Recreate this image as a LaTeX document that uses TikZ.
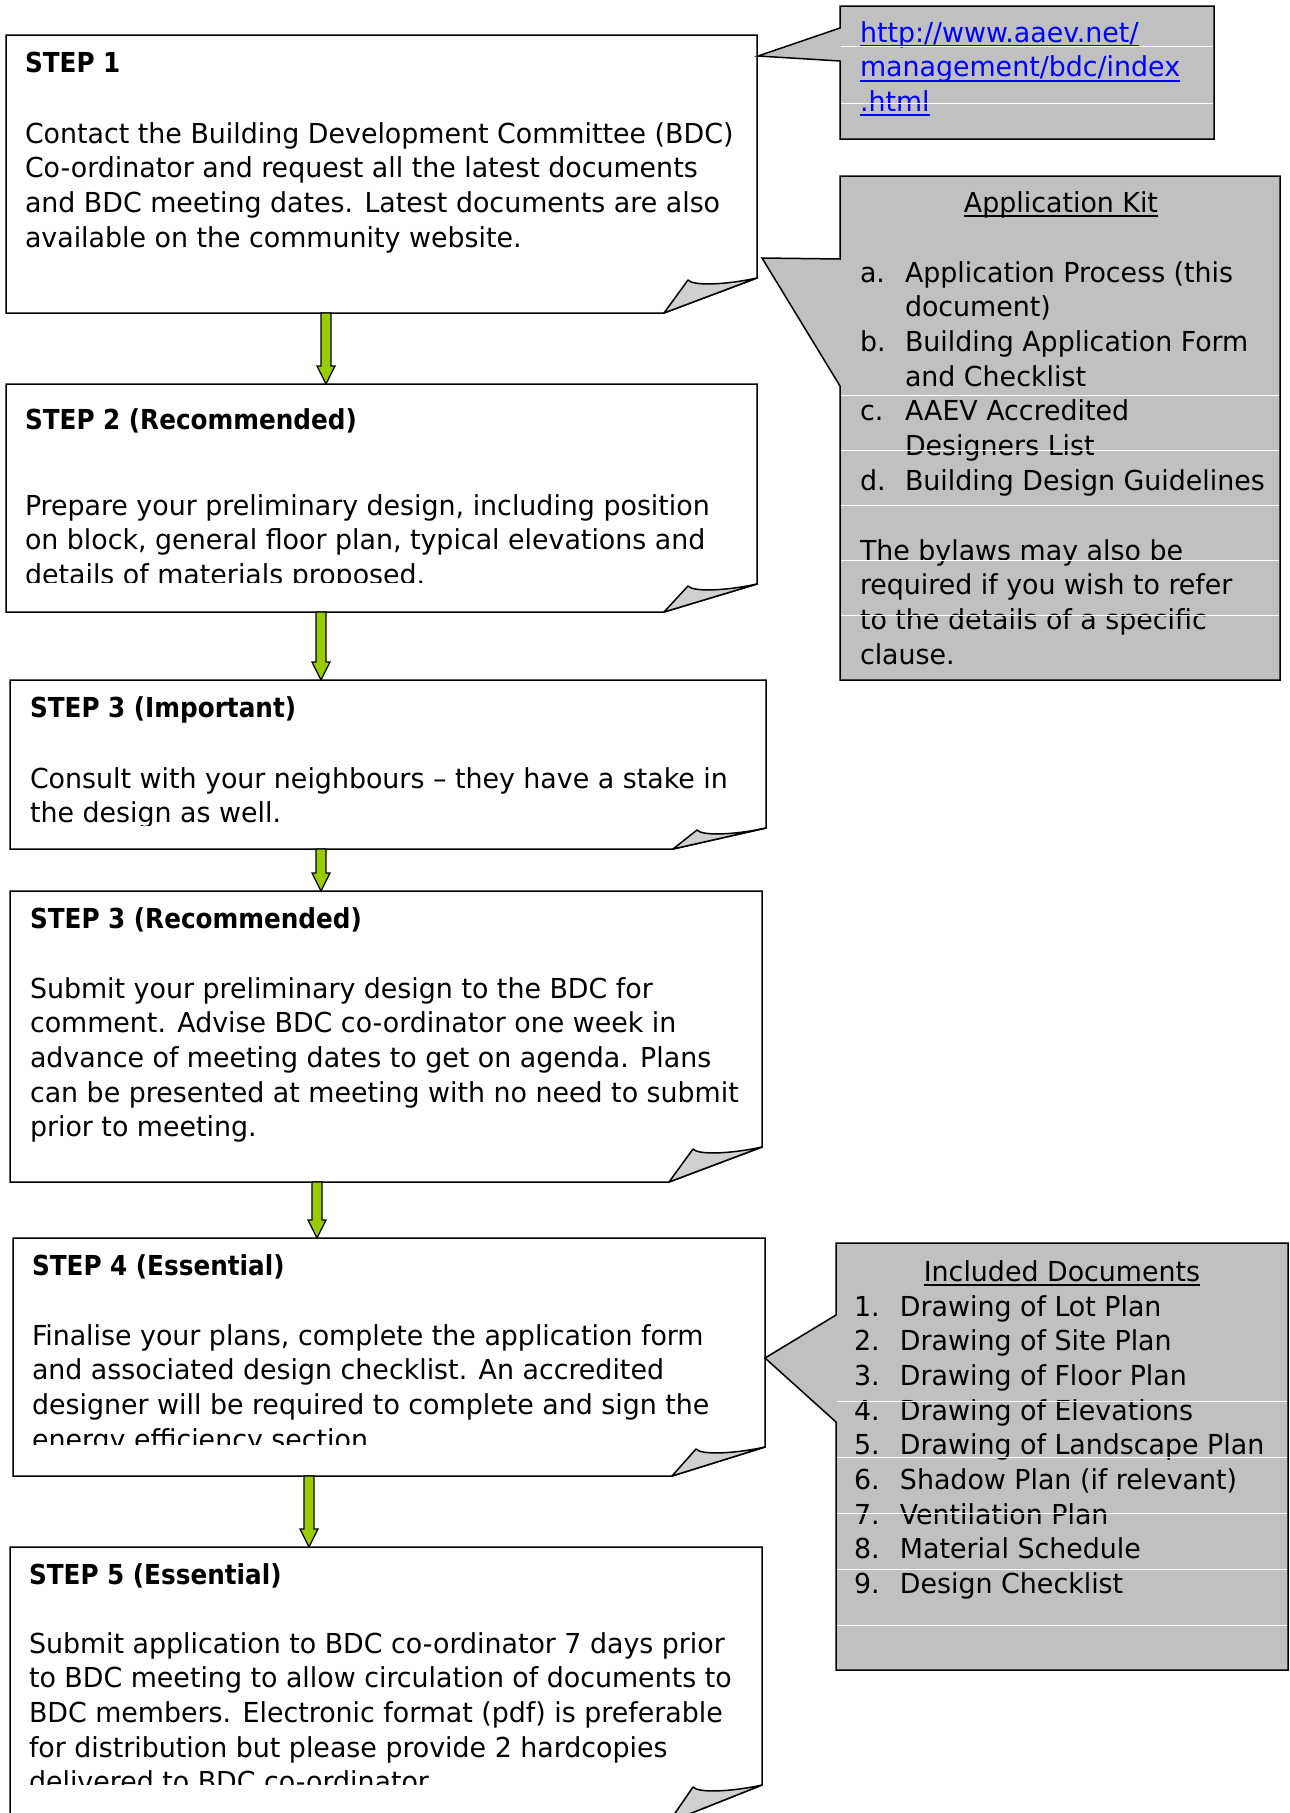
\documentclass[tikz,border=0pt]{standalone}
\usepackage{fontspec}
\IfFontExistsTF{DejaVu Sans Condensed}{\setmainfont{DejaVu Sans Condensed}[FakeStretch=1.085]}{\setmainfont{DejaVu Sans}[FakeStretch=0.976]}
\usepackage{graphicx}
\usetikzlibrary{calc}
\definecolor{callgray}{RGB}{192,192,192}
\definecolor{curlgray}{RGB}{208,208,208}
\definecolor{agreen}{RGB}{153,204,0}
\definecolor{linkblue}{RGB}{0,0,255}

\tikzset{
  boxline/.style={draw=black, line width=1.5pt, fill=white, line join=miter},
  curl/.style={draw=black, line width=1.5pt, fill=curlgray, line join=round},
  callout/.style={draw=black, line width=1.5pt, fill=callgray},
  rowline/.style={draw=white, line width=0.8pt},
  garrow/.style={draw=black, line width=1.2pt, fill=agreen},
  txt/.style={anchor=base west, inner sep=0pt, outer sep=0pt, font=\fontsize{27.5}{34.7}\selectfont},
  ctxt/.style={txt, anchor=base},
  frame/.style={inner sep=0pt, outer sep=0pt, anchor=north west, draw=none},
}

% name, L, T, R, B, right-end y, bottom-end x
\newcommand\stepbox[7]{%
  \node[frame, minimum width={#4-#2}, minimum height={#5-#3}] (#1) at (#2,#3) {};
  \draw[boxline] (#2,#3) -- (#4,#3) -- (#4,#6) -- (#7,#5) -- (#2,#5) -- cycle;
  \draw[curl] (#7,#5) -- ({#7+24},{#6+2}) .. controls ({#7+29},{#6+8}) and ({#7+61},{#6+7}) .. (#4,#6) -- cycle;
}
% from, to, x
\newcommand\gArrow[3]{%
  \draw[garrow] let \p1=(#1.south), \p2=(#2.north) in
   ({#3pt-5pt},\y1) -- ({#3pt+5pt},\y1) -- ({#3pt+5pt},\y2+18pt) -- ({#3pt+9pt},\y2+18pt)
   -- (#3pt,\y2) -- ({#3pt-9pt},\y2+18pt) -- ({#3pt-5pt},\y2+18pt) -- cycle;
}
\newcommand\lns[1]{\begin{tabular}[t]{@{}l@{}}#1\end{tabular}}
\newcommand\itm[2]{\makebox[#1pt][l]{#2}}
\newsavebox\ulbox
\newcommand\ulin[1]{\sbox\ulbox{#1}\rlap{\rule[-5pt]{\wd\ulbox}{2pt}}\usebox\ulbox}
\newcommand\steptitle[1]{\scalebox{0.92}[1]{\bfseries #1}}

\begin{document}
\begin{tikzpicture}[x=1pt,y=-1pt]
\useasboundingbox (0,0) rectangle (1290,1813);
\clip (0,0) rectangle (1290,1813);
\fill[white] (0,0) rectangle (1290,1813);

% ---------- step boxes ----------
\stepbox{s1}{6}{35}{757}{313}{278}{664}
\stepbox{s2}{6}{384}{757}{612}{584}{664}
\stepbox{s3}{10}{680}{766}{849}{828}{673}
\stepbox{s4}{10}{891}{762}{1182}{1147}{669}
\stepbox{s5}{13}{1238}{765}{1476}{1447}{672}
\stepbox{s6}{10}{1547}{762}{1822}{1785}{669}

% ---------- arrows ----------
\gArrow{s1}{s2}{326}
\gArrow{s2}{s3}{321}
\gArrow{s3}{s4}{321}
\gArrow{s4}{s5}{317}
\gArrow{s5}{s6}{309}

% ---------- step texts ----------
\node[txt] (s1a) at (25,72) {\steptitle{STEP 1}};
\node[txt] (s1b) at (25,143) {\lns{Contact the Building Development Committee (BDC)\\
Co-ordinator and request all the latest documents\\
and BDC meeting dates. Latest documents are also\\
available on the community website.}};

\node[txt] (s2a) at (25,429) {\steptitle{STEP 2 (Recommended)}};
\begin{scope}
\clip (6,440) rectangle (757,582);
\node[txt] (s2b) at (25,515) {\lns{Prepare your preliminary design, including position\\
on block, general floor plan, typical elevations and\\
details of materials proposed.}};
\end{scope}

\node[txt] (s3a) at (30,717) {\steptitle{STEP 3 (Important)}};
\begin{scope}
\clip (10,730) rectangle (766,825);
\node[txt] (s3b) at (30,788) {\lns{Consult with your neighbours – they have a stake in\\
the design as well.}};
\end{scope}

\node[txt] (s4a) at (30,928) {\steptitle{STEP 3 (Recommended)}};
\node[txt] (s4b) at (30,998) {\lns{Submit your preliminary design to the BDC for\\
comment. Advise BDC co-ordinator one week in\\
advance of meeting dates to get on agenda. Plans\\
can be presented at meeting with no need to submit\\
prior to meeting.}};

\node[txt] (s5a) at (32,1275) {\steptitle{STEP 4 (Essential)}};
\begin{scope}
\clip (13,1290) rectangle (765,1444);
\node[txt] (s5b) at (32,1345) {\lns{Finalise your plans, complete the application form\\
and associated design checklist. An accredited\\
designer will be required to complete and sign the\\
energy efficiency section.}};
\end{scope}

\node[txt] (s6a) at (29,1584) {\steptitle{STEP 5 (Essential)}};
\begin{scope}
\clip (10,1600) rectangle (762,1784);
\node[txt] (s6b) at (29,1653) {\lns{Submit application to BDC co-ordinator 7 days prior\\
to BDC meeting to allow circulation of documents to\\
BDC members. Electronic format (pdf) is preferable\\
for distribution but please provide 2 hardcopies\\
delivered to BDC co-ordinator.}};
\end{scope}

% ---------- callout: URL ----------
\node[frame, minimum width=374, minimum height=133] (url) at (840,6) {};
\draw[callout] (840,6) -- (1214,6) -- (1214,139) -- (840,139) -- (840,61) -- (758,56) -- (840,28) -- cycle;
\node[txt] (urlt) at (860,42) {\color{linkblue}\lns{\ulin{http://www.aaev.net/}\\
\ulin{management/bdc/index}\\
\ulin{.html}}};
\draw[rowline] (841,46) -- (1213,46);
\draw[rowline] (841,103) -- (1213,103);

% ---------- callout: Application Kit ----------
\node[frame, minimum width=440, minimum height=504] (kit) at (840,176) {};
\draw[callout] (840,176) -- (1280,176) -- (1280,680) -- (840,680) -- (840,386) -- (762,258) -- (840,259) -- cycle;
\node[ctxt] (kitt) at (1061,212) {\ulin{Application Kit}};
\node[txt] (kitl) at (860,282) {\lns{\itm{45}{a.}Application Process (this\\
\itm{45}{}document)\\
\itm{45}{b.}Building Application Form\\
\itm{45}{}and Checklist\\
\itm{45}{c.}AAEV Accredited\\
\itm{45}{}Designers List\\
\itm{45}{d.}Building Design Guidelines}};
\node[txt] (kitb) at (860,560) {\lns{The bylaws may also be\\
required if you wish to refer\\
to the details of a specific\\
clause.}};
\foreach \yy in {395,450,505,560,615} \draw[rowline] (841,\yy) -- (1279,\yy);

% ---------- callout: Included Documents ----------
\node[frame, minimum width=452, minimum height=427] (inc) at (836,1243) {};
\draw[callout] (836,1243) -- (1288,1243) -- (1288,1670) -- (836,1670) -- (836,1422) -- (765,1358) -- (836,1315) -- cycle;
\node[ctxt] (inct) at (1062,1281) {\ulin{Included Documents}};
\node[txt] (incl) at (854,1316) {\lns{\itm{46}{1.}Drawing of Lot Plan\\
\itm{46}{2.}Drawing of Site Plan\\
\itm{46}{3.}Drawing of Floor Plan\\
\itm{46}{4.}Drawing of Elevations\\
\itm{46}{5.}Drawing of Landscape Plan\\
\itm{46}{6.}Shadow Plan (if relevant)\\
\itm{46}{7.}Ventilation Plan\\
\itm{46}{8.}Material Schedule\\
\itm{46}{9.}Design Checklist}};
\foreach \yy in {1401,1457,1513,1569,1625} \draw[rowline] (837,\yy) -- (1287,\yy);
\end{tikzpicture}
\end{document}
